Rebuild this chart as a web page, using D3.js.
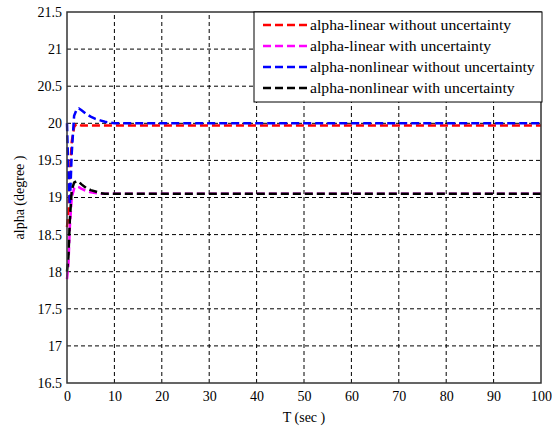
<!DOCTYPE html>
<html>
<head>
<meta charset="utf-8">
<script src="https://cdn.jsdelivr.net/npm/d3@7"></script>
<style>
  body { margin: 0; background: #fff; }
  text { font-family: "Liberation Serif", serif; }
</style>
</head>
<body>
<div id="chart"></div>
<script>
(function () {
    'use strict';

    // time points (sec)
    var time = [0, 0.3, 0.6, 1, 1.5, 2, 2.5, 3, 4, 5, 6, 7, 8, 9, 10, 12, 15, 20, 100];

    var linearNoUnc = [18.6, 18.8, 19.3, 19.75, 19.95, 19.99, 19.98, 19.97, 19.97, 19.97, 19.97, 19.97, 19.97, 19.97, 19.97, 19.97, 19.97, 19.97, 19.97];
    var linearUnc = [17.9, 18.1, 18.6, 19.0, 19.12, 19.15, 19.14, 19.12, 19.09, 19.07, 19.06, 19.05, 19.05, 19.05, 19.05, 19.05, 19.05, 19.05, 19.05];
    var nonlinearNoUnc = [20.0, 19.3, 18.9, 19.6, 20.1, 20.18, 20.2, 20.18, 20.13, 20.09, 20.06, 20.04, 20.02, 20.01, 20.0, 20.0, 20.0, 20.0, 20.0];
    var nonlinearUnc = [18.0, 18.2, 18.7, 19.1, 19.2, 19.22, 19.21, 19.18, 19.13, 19.1, 19.08, 19.06, 19.05, 19.05, 19.05, 19.05, 19.05, 19.05, 19.05];

    var seriesNames = [
        'alpha-linear without uncertainty',
        'alpha-linear with uncertainty',
        'alpha-nonlinear without uncertainty',
        'alpha-nonlinear with uncertainty'
    ];
    var seriesValues = [linearNoUnc, linearUnc, nonlinearNoUnc, nonlinearUnc];
    var seriesColors = ['#ff0000', '#ff00ff', '#0000ff', '#000000'];

    var xTicks = [0, 10, 20, 30, 40, 50, 60, 70, 80, 90, 100];
    var yTicks = [16.5, 17, 17.5, 18, 18.5, 19, 19.5, 20, 20.5, 21, 21.5];

    var width = 552, height = 432;
    var margin = { left: 67, right: 11, top: 12, bottom: 49 };
    var font = '"Liberation Serif", serif';
    var textStretch = 1.12;   // source font is wider than Times

    var svg = d3.select('#chart').append('svg')
        .attr('width', width)
        .attr('height', height);

    var x = d3.scaleLinear().domain([0, 100]).range([margin.left, width - margin.right]);
    var y = d3.scaleLinear().domain([16.5, 21.5]).range([height - margin.bottom, margin.top]);

    function stretch(sel) {
        sel.each(function () {
            var w = this.getComputedTextLength();
            d3.select(this).attr('textLength', w * textStretch).attr('lengthAdjust', 'spacingAndGlyphs');
        });
    }

    // grid
    var grid = svg.append('g');
    grid.selectAll('line.vx').data(xTicks.slice(1, -1)).enter().append('line')
        .attr('x1', function (d) { return x(d); })
        .attr('x2', function (d) { return x(d); })
        .attr('y1', y(16.5)).attr('y2', y(21.5))
        .style('stroke', '#000').style('stroke-width', 1)
        .style('stroke-dasharray', '4,3');
    grid.selectAll('line.hy').data(yTicks.slice(1, -1)).enter().append('line')
        .attr('y1', function (d) { return y(d); })
        .attr('y2', function (d) { return y(d); })
        .attr('x1', x(0)).attr('x2', x(100))
        .style('stroke', '#000').style('stroke-width', 1)
        .style('stroke-dasharray', '4,3');

    // curves
    var line = d3.line()
        .x(function (d) { return x(d[0]); })
        .y(function (d) { return y(d[1]); });

    seriesValues.forEach(function (vals, i) {
        svg.append('path')
            .datum(time.map(function (t, j) { return [t, vals[j]]; }))
            .attr('d', line)
            .style('fill', 'none')
            .style('stroke', seriesColors[i])
            .style('stroke-width', 2.5)
            .style('stroke-dasharray', '8,4');
    });

    // axes box
    svg.append('rect')
        .attr('x', x(0)).attr('y', y(21.5))
        .attr('width', x(100) - x(0)).attr('height', y(16.5) - y(21.5))
        .style('fill', 'none').style('stroke', '#333').style('stroke-width', 1.5);

    var xAxis = svg.append('g')
        .attr('transform', 'translate(0,' + y(16.5) + ')')
        .call(d3.axisBottom(x).tickValues(xTicks).tickSize(0).tickPadding(8).tickFormat(d3.format('d')));
    var yAxis = svg.append('g')
        .attr('transform', 'translate(' + x(0) + ',0)')
        .call(d3.axisLeft(y).tickValues(yTicks).tickSize(0).tickPadding(5).tickFormat(function (d) { return String(d); }));
    [xAxis, yAxis].forEach(function (a) {
        a.attr('font-family', null).attr('font-size', null);
        a.select('.domain').remove();
        a.selectAll('text')
            .style('font-family', font)
            .style('font-size', '14px')
            .style('fill', '#000');
    });

    // axis labels
    svg.append('text')
        .attr('x', (x(0) + x(100)) / 2)
        .attr('y', 422)
        .attr('text-anchor', 'middle')
        .style('font-family', font)
        .style('font-size', '14px')
        .text('T (sec )');
    svg.append('text')
        .attr('transform', 'translate(24,' + ((y(16.5) + y(21.5)) / 2) + ') rotate(-90)')
        .attr('text-anchor', 'middle')
        .style('font-family', font)
        .style('font-size', '14px')
        .text('alpha (degree )');

    // legend
    var legend = svg.append('g');
    legend.append('rect')
        .attr('x', 254).attr('y', 12)
        .attr('width', 288).attr('height', 90)
        .style('fill', '#fff').style('stroke', '#000').style('stroke-width', 1);

    var rows = legend.selectAll('g.row').data(seriesNames).enter().append('g')
        .attr('transform', function (d, i) { return 'translate(0,' + (25 + i * 21) + ')'; });
    rows.append('line')
        .attr('x1', 263).attr('x2', 308)
        .attr('y1', 0).attr('y2', 0)
        .style('stroke', function (d, i) { return seriesColors[i]; })
        .style('stroke-width', 2.5)
        .style('stroke-dasharray', '8,4');
    rows.append('text')
        .attr('x', 310).attr('y', 5)
        .style('font-family', font)
        .style('font-size', '14px')
        .text(function (d) { return d; })
        .call(stretch);
})();
</script>
</body>
</html>
